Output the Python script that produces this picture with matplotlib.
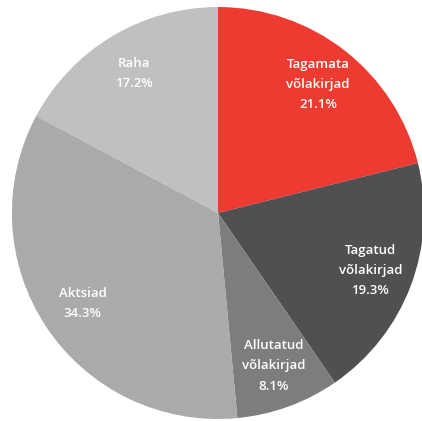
import matplotlib
matplotlib.use("Agg")
import matplotlib.pyplot as plt

# portfelli jaotus varaklasside kaupa
nimed = ["Tagamata\nvõlakirjad", "Tagatud\nvõlakirjad", "Allutatud\nvõlakirjad", "Aktsiad", "Raha"]
osakaalud = [21.1, 19.3, 8.1, 34.3, 17.2]
varvid = ["#EE3B31", "#505050", "#7D7D7D", "#A8A8A8", "#C0C0C0"]

plt.rcParams["font.family"] = ["Open Sans", "DejaVu Sans"]

fig = plt.figure(figsize=(4.22, 4.21), dpi=100)
ax = fig.add_axes([0, 0, 1, 1])

sildid = [f"{n}\n{v:.1f}%" for n, v in zip(nimed, osakaalud)]
wedges, texts = ax.pie(osakaalud, labels=sildid, colors=varvid, startangle=90,
                       counterclock=False, labeldistance=0.79,
                       wedgeprops=dict(linewidth=0),
                       textprops=dict(color="white", fontsize=9.5, fontweight="semibold"))
for t in texts:
    t.set_ha("center")
    t.set_va("center")
    t.set_linespacing(1.72)

# aktsiate sektoril peen punktmuster
w = wedges[3]
ax.add_patch(matplotlib.patches.Wedge(w.center, w.r, w.theta1, w.theta2, fill=False,
                                      hatch="......", edgecolor="#B0B0B0", linewidth=0))

ax.set_xlim(-1.058, 0.99)
ax.set_ylim(-1.01, 1.034)
ax.set_aspect("auto")
ax.axis("off")

fig.savefig("out.png", dpi=100)
